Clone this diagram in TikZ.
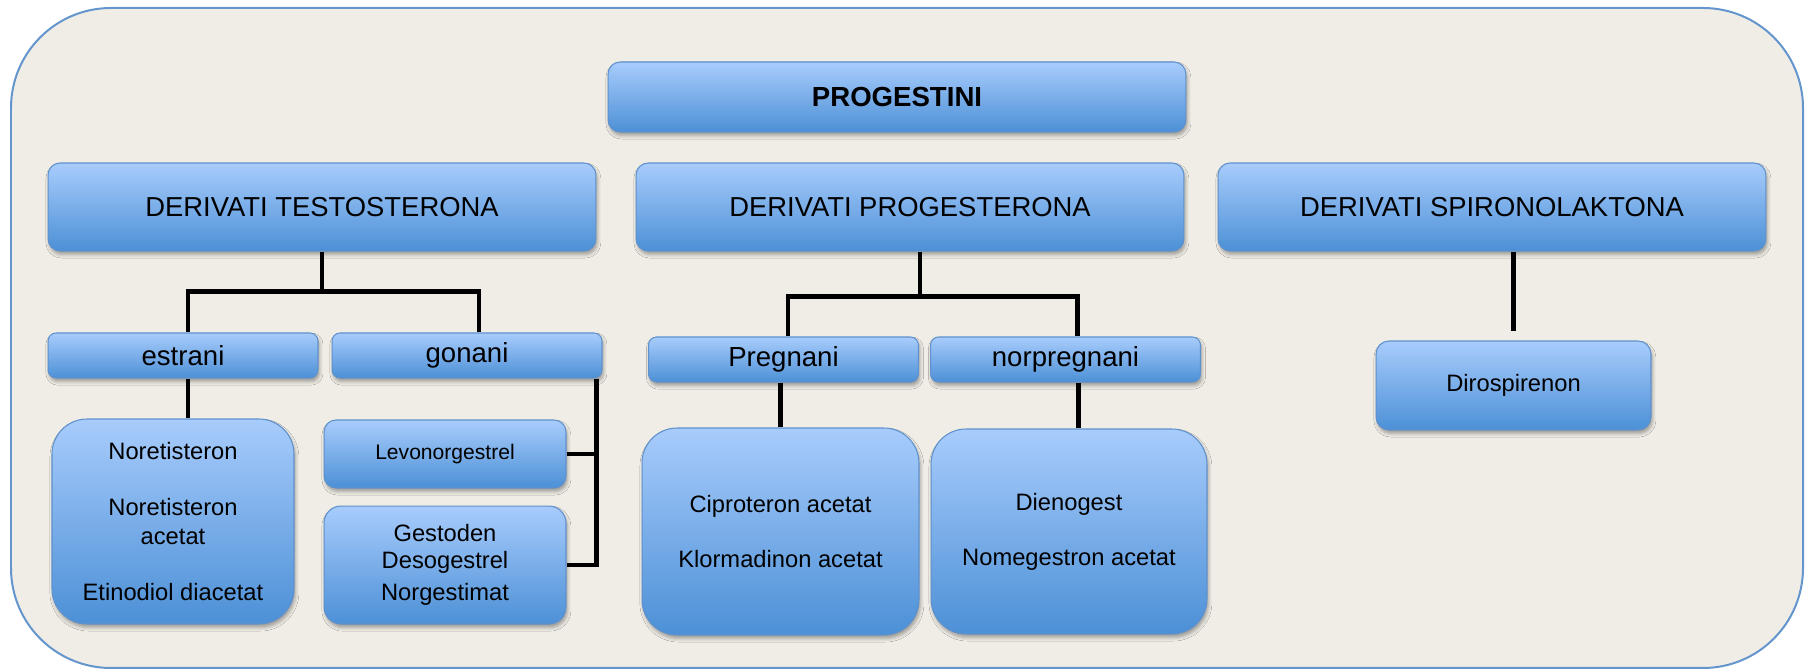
\documentclass[tikz,border=0pt]{standalone}
\usepackage{fontspec}
\setmainfont{Liberation Sans}
\usetikzlibrary{positioning, shadows.blur}

\definecolor{paper}{RGB}{240,237,230}
\definecolor{framec}{RGB}{100,150,205}
\definecolor{boxtop}{RGB}{168,204,252}
\definecolor{boxbot}{RGB}{76,144,214}
\definecolor{boxline}{RGB}{95,145,205}

\tikzset{
	frame/.style={draw=framec, line width=0.04cm, fill=paper, rounded corners=2cm}, % the big background panel
	box/.style={draw=boxline, line width=0.6pt, top color=boxtop, bottom color=boxbot, align=center,
		blur shadow={shadow xshift=0.8pt, shadow yshift=-2pt, shadow blur radius=2pt, shadow opacity=35}}, % every blue box
	rootbox/.style={box, rounded corners=0.24cm, minimum width=11.56cm, minimum height=1.4cm, font=\fontsize{15.7}{19}\selectfont\bfseries},
	headbox/.style={box, rounded corners=0.24cm, minimum width=10.96cm, minimum height=1.76cm, font=\fontsize{15.6}{19}\selectfont},
	groupbox/.style={box, rounded corners=0.16cm, minimum width=5.4cm, minimum height=0.9cm, font=\fontsize{15.7}{19}\selectfont},
	drugbox/.style={box, rounded corners=0.7cm, font=\fontsize{13.5}{17}\selectfont}, % the lists of substances
	link/.style={draw=black, line width=0.09cm}, % the black connectors
}

\begin{document}
\begin{tikzpicture}[x=0.02cm, y=-0.02cm]
		\useasboundingbox (0,0) rectangle (1806,671);
		\draw[frame] (11,8) rectangle (1803,668);
		
		% Define the boxes
		\node[rootbox] (prog) at (897,97) {PROGESTINI};
		\node[headbox] (testo) at (322,207) {DERIVATI TESTOSTERONA};
		\node[headbox] (proge) at (910,207) {DERIVATI PROGESTERONA};
		\node[headbox] (spiro) at (1492,207) {DERIVATI SPIRONOLAKTONA};
		
		\node[groupbox] (estr) at (183,355.5) {estrani};
		\node[groupbox, right=0.26cm of estr] (gona) {gonani};
		\node[groupbox] (preg) at (783.5,359.5) {Pregnani};
		\node[groupbox, right=0.22cm of preg] (norpreg) {norpregnani};
		
		\node[drugbox, minimum width=4.84cm, minimum height=4.1cm] (noret) at (173,521.5)
			{Noretisteron\\[0.52cm]Noretisteron\\acetat\\[0.52cm]Etinodiol diacetat};
		\node[drugbox, rounded corners=0.24cm, minimum width=4.84cm, minimum height=1.36cm,
			font=\fontsize{12}{15}\selectfont] (levo) at (445,454) {Levonorgestrel};
		\node[drugbox, rounded corners=0.34cm, minimum width=4.84cm, minimum height=2.36cm,
			below=0.34cm of levo] (gesto) {Gestoden\\[-0.06cm]Desogestrel\\[0.04cm]Norgestimat};
		\node[drugbox, minimum width=5.54cm, minimum height=4.14cm] (cipro) at (780.5,531.5)
			{Ciproteron acetat\\[0.5cm]Klormadinon acetat};
		\node[drugbox, minimum width=5.52cm, minimum height=4.1cm, right=0.22cm of cipro] (dieno)
			{Dienogest\\[0.5cm]Nomegestron acetat};
		\node[drugbox, rounded corners=0.26cm, minimum width=5.5cm, minimum height=1.78cm] (diro) at (1513.5,385.5)
			{Dirospirenon};
		
		% Connections
		\draw[link] (testo.south) -- ++(0,40) coordinate (tbar);
		\draw[link] ([xshift=0.1cm]estr.north) |- (tbar) -| ([xshift=0.24cm]gona.north);
		\draw[link] ([xshift=0.2cm]proge.south) -- ++(0,45) coordinate (pbar);
		\draw[link] ([xshift=0.09cm]preg.north) |- (pbar) -| ([xshift=0.24cm]norpreg.north);
		\draw[link] ([xshift=0.1cm]estr.south) -- ([xshift=0.1cm]estr.south |- noret.north);
		\draw[link] (preg.south -| cipro.north) -- (cipro.north);
		\draw[link] ([xshift=0.26cm]norpreg.south) -- ([xshift=0.26cm]norpreg.south |- dieno.north);
		\coordinate (gbus) at ([xshift=-0.12cm]gona.south east);
		\draw[link] (gbus) |- (gesto.east);
		\draw[link] (levo.east) -- (levo.east -| gbus);
		\draw[link, shorten >=0.18cm] (spiro.south -| diro.north) -- (diro.north);
	\end{tikzpicture}
\end{document}
